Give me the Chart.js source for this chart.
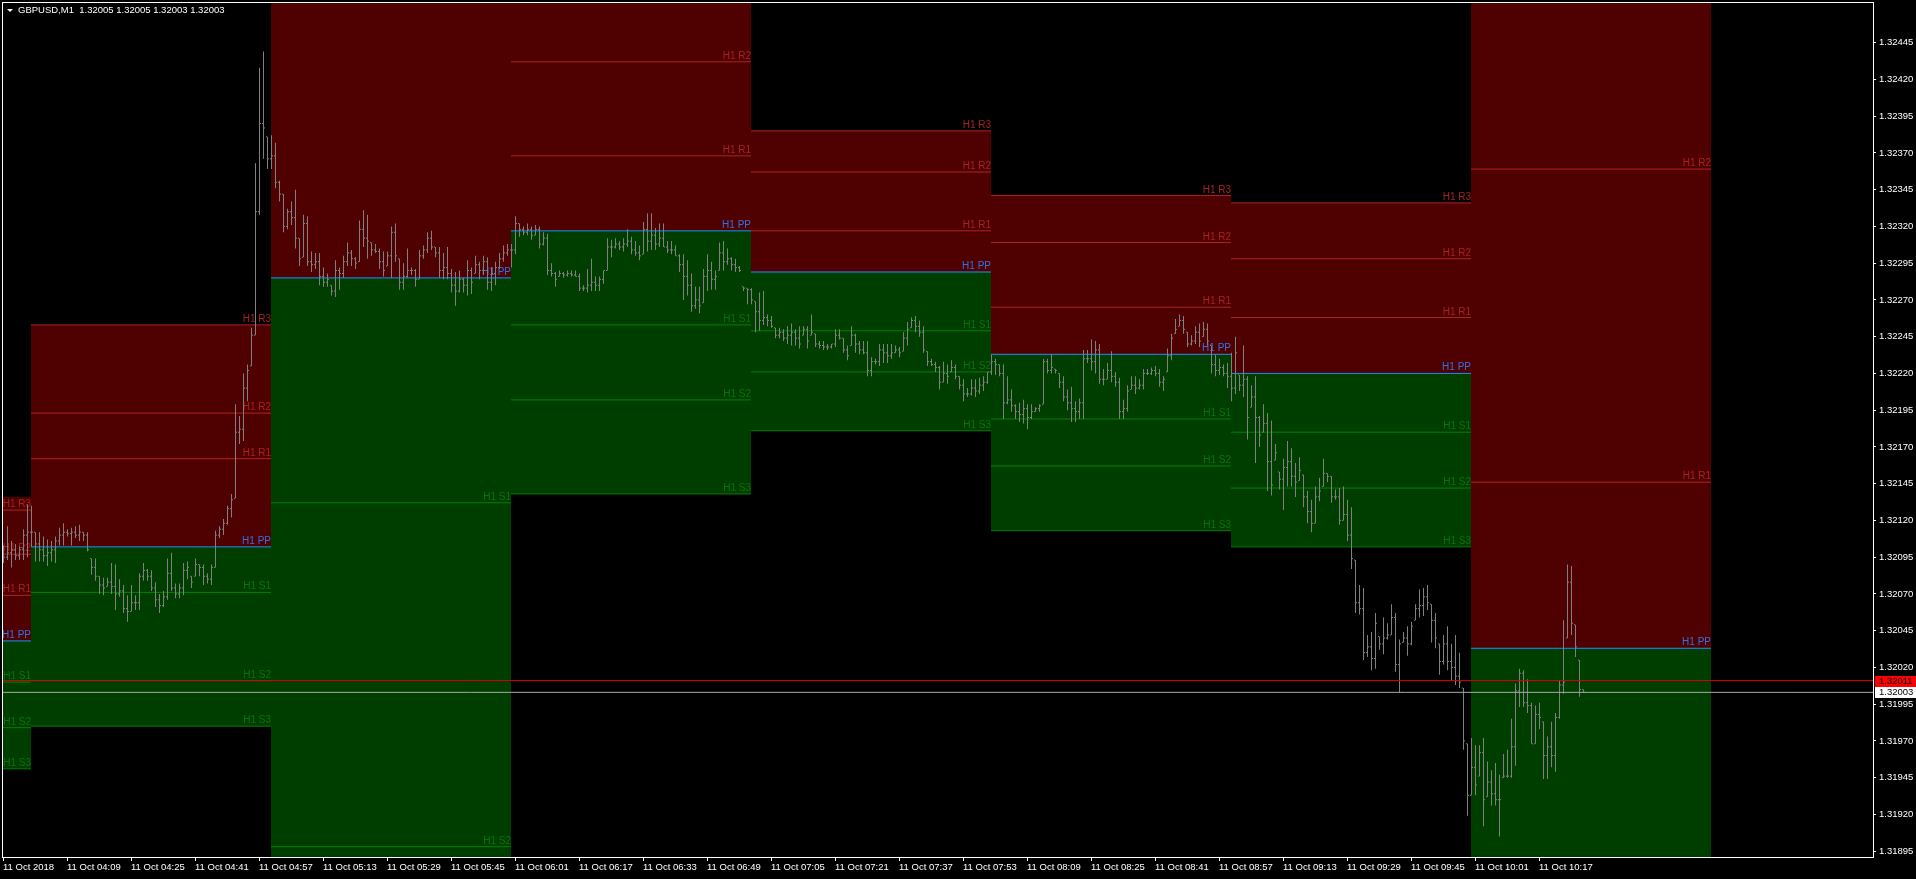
<!DOCTYPE html>
<html>
<head>
<meta charset="utf-8">
<title>GBPUSD,M1</title>
<script src="https://cdn.jsdelivr.net/npm/chart.js@4.4.1/dist/chart.umd.min.js"></script>
<style>
  html, body { margin: 0; padding: 0; background: #000; overflow: hidden; }
  canvas { display: block; }
</style>
</head>
<body>
<canvas id="chart" width="1916" height="879"></canvas>
<script>
// header text shown in the top-left corner
const symbolTitle = 'GBPUSD,M1  1.32005 1.32005 1.32003 1.32003';

// current ask / bid
const askPrice = 1.32011;
const bidPrice = 1.32003;

// first bar is 11 Oct 03:53 ; minutes are counted from 04:00
const firstBarMinute = -7;

// M1 bars 03:53 -> 10:28
const barHigh = [
  1.32103, 1.32116, 1.32106, 1.32104, 1.32102, 1.32114, 1.32131,
  // 04:00
  1.32130, 1.32112, 1.32112, 1.32109, 1.32107, 1.32106, 1.32109, 1.32115, 1.32118, 1.32114,
  1.32115, 1.32116, 1.32117, 1.32112, 1.32112, 1.32094, 1.32094, 1.32082, 1.32081, 1.32081,
  1.32091, 1.32090, 1.32080, 1.32076, 1.32069, 1.32076, 1.32069, 1.32084, 1.32091, 1.32087,
  1.32086, 1.32078, 1.32070, 1.32072, 1.32094, 1.32098, 1.32077, 1.32077, 1.32091, 1.32092,
  1.32082, 1.32094, 1.32090, 1.32090, 1.32084, 1.32090, 1.32113, 1.32116, 1.32121, 1.32130,
  1.32138, 1.32199, 1.32191, 1.32220, 1.32226, 1.32251, 1.32363, 1.32428, 1.32439, 1.32381,
  // 05:00
  1.32382, 1.32377, 1.32351, 1.32342, 1.32332, 1.32337, 1.32345, 1.32312, 1.32328, 1.32327,
  1.32303, 1.32302, 1.32302, 1.32292, 1.32288, 1.32280, 1.32297, 1.32292, 1.32300, 1.32309,
  1.32304, 1.32299, 1.32324, 1.32331, 1.32328, 1.32309, 1.32308, 1.32305, 1.32303, 1.32303,
  1.32320, 1.32322, 1.32298, 1.32295, 1.32305, 1.32292, 1.32291, 1.32304, 1.32307, 1.32316,
  1.32317, 1.32306, 1.32306, 1.32302, 1.32306, 1.32291, 1.32289, 1.32290, 1.32285, 1.32297,
  1.32292, 1.32300, 1.32296, 1.32300, 1.32299, 1.32292, 1.32296, 1.32302, 1.32307, 1.32308,
  // 06:00
  1.32308, 1.32327, 1.32322, 1.32320, 1.32322, 1.32320, 1.32321, 1.32320, 1.32316, 1.32315,
  1.32295, 1.32289, 1.32290, 1.32289, 1.32290, 1.32290, 1.32290, 1.32288, 1.32280, 1.32291,
  1.32298, 1.32286, 1.32286, 1.32290, 1.32312, 1.32311, 1.32312, 1.32310, 1.32312, 1.32318,
  1.32313, 1.32310, 1.32307, 1.32323, 1.32329, 1.32329, 1.32319, 1.32322, 1.32322, 1.32310,
  1.32310, 1.32307, 1.32301, 1.32301, 1.32297, 1.32288, 1.32279, 1.32279, 1.32291, 1.32301,
  1.32296, 1.32290, 1.32309, 1.32310, 1.32305, 1.32299, 1.32298, 1.32293, 1.32279, 1.32278,
  // 07:00
  1.32278, 1.32269, 1.32275, 1.32276, 1.32260, 1.32259, 1.32251, 1.32251, 1.32250, 1.32252,
  1.32254, 1.32250, 1.32252, 1.32252, 1.32252, 1.32260, 1.32247, 1.32242, 1.32242, 1.32240,
  1.32240, 1.32250, 1.32250, 1.32244, 1.32239, 1.32252, 1.32247, 1.32242, 1.32242, 1.32242,
  1.32231, 1.32230, 1.32240, 1.32240, 1.32240, 1.32240, 1.32239, 1.32238, 1.32248, 1.32255,
  1.32258, 1.32259, 1.32256, 1.32252, 1.32235, 1.32230, 1.32228, 1.32225, 1.32228, 1.32226,
  1.32229, 1.32226, 1.32218, 1.32216, 1.32210, 1.32216, 1.32216, 1.32217, 1.32218, 1.32221,
  // 08:00
  1.32233, 1.32230, 1.32226, 1.32226, 1.32218, 1.32209, 1.32199, 1.32200, 1.32202, 1.32199,
  1.32199, 1.32197, 1.32199, 1.32230, 1.32230, 1.32233, 1.32223, 1.32220, 1.32218, 1.32209,
  1.32211, 1.32201, 1.32203, 1.32236, 1.32236, 1.32243, 1.32242, 1.32240, 1.32223, 1.32227,
  1.32235, 1.32221, 1.32217, 1.32202, 1.32212, 1.32218, 1.32218, 1.32216, 1.32223, 1.32223,
  1.32224, 1.32225, 1.32223, 1.32218, 1.32237, 1.32247, 1.32257, 1.32260, 1.32259, 1.32248,
  1.32246, 1.32252, 1.32254, 1.32255, 1.32254, 1.32239, 1.32233, 1.32230, 1.32226, 1.32227,
  // 09:00
  1.32234, 1.32245, 1.32219, 1.32239, 1.32218, 1.32212, 1.32218, 1.32191, 1.32199, 1.32193,
  1.32188, 1.32172, 1.32153, 1.32162, 1.32174, 1.32169, 1.32159, 1.32163, 1.32151, 1.32140,
  1.32134, 1.32143, 1.32149, 1.32162, 1.32152, 1.32150, 1.32141, 1.32142, 1.32143, 1.32134,
  1.32129, 1.32093, 1.32076, 1.32074, 1.32042, 1.32044, 1.32057, 1.32041, 1.32054, 1.32050,
  1.32063, 1.32057, 1.32039, 1.32044, 1.32048, 1.32051, 1.32063, 1.32073, 1.32074, 1.32076,
  1.32063, 1.32057, 1.32036, 1.32042, 1.32048, 1.32036, 1.32042, 1.32030, 1.32006, 1.31968,
  // 10:00
  1.31972, 1.31967, 1.31967, 1.31972, 1.31956, 1.31950, 1.31955, 1.31947, 1.31961, 1.31964,
  1.31985, 1.32009, 1.32019, 1.32018, 1.32012, 1.31996, 1.31994, 1.31996, 1.31983, 1.31973,
  1.31983, 1.31989, 1.32011, 1.32052, 1.32090, 1.32089, 1.32049, 1.32025, 1.32005
];

const barLow = [
  1.32091, 1.32093, 1.32088, 1.32093, 1.32093, 1.32093, 1.32095,
  // 04:00
  1.32102, 1.32092, 1.32092, 1.32092, 1.32089, 1.32092, 1.32091, 1.32103, 1.32103, 1.32109,
  1.32103, 1.32108, 1.32106, 1.32106, 1.32099, 1.32083, 1.32079, 1.32070, 1.32069, 1.32075,
  1.32070, 1.32059, 1.32068, 1.32057, 1.32051, 1.32058, 1.32059, 1.32059, 1.32079, 1.32079,
  1.32072, 1.32061, 1.32057, 1.32061, 1.32066, 1.32072, 1.32067, 1.32067, 1.32069, 1.32080,
  1.32074, 1.32082, 1.32082, 1.32076, 1.32077, 1.32076, 1.32088, 1.32108, 1.32110, 1.32117,
  1.32122, 1.32135, 1.32172, 1.32174, 1.32201, 1.32225, 1.32246, 1.32328, 1.32366, 1.32359,
  // 05:00
  1.32359, 1.32346, 1.32337, 1.32316, 1.32318, 1.32321, 1.32305, 1.32293, 1.32299, 1.32293,
  1.32289, 1.32291, 1.32280, 1.32279, 1.32279, 1.32273, 1.32272, 1.32277, 1.32285, 1.32293,
  1.32293, 1.32291, 1.32296, 1.32306, 1.32298, 1.32300, 1.32302, 1.32291, 1.32286, 1.32293,
  1.32285, 1.32296, 1.32277, 1.32277, 1.32285, 1.32287, 1.32279, 1.32284, 1.32298, 1.32302,
  1.32304, 1.32299, 1.32285, 1.32284, 1.32284, 1.32275, 1.32266, 1.32275, 1.32275, 1.32273,
  1.32274, 1.32288, 1.32284, 1.32287, 1.32277, 1.32276, 1.32280, 1.32291, 1.32296, 1.32300,
  // 06:00
  1.32292, 1.32301, 1.32313, 1.32314, 1.32314, 1.32311, 1.32314, 1.32305, 1.32307, 1.32287,
  1.32286, 1.32279, 1.32286, 1.32285, 1.32286, 1.32286, 1.32286, 1.32276, 1.32276, 1.32275,
  1.32276, 1.32276, 1.32276, 1.32281, 1.32290, 1.32299, 1.32305, 1.32304, 1.32303, 1.32306,
  1.32301, 1.32300, 1.32297, 1.32301, 1.32303, 1.32304, 1.32304, 1.32306, 1.32306, 1.32302,
  1.32301, 1.32300, 1.32289, 1.32270, 1.32273, 1.32262, 1.32264, 1.32261, 1.32268, 1.32276,
  1.32277, 1.32277, 1.32290, 1.32290, 1.32294, 1.32290, 1.32289, 1.32289, 1.32276, 1.32267,
  // 07:00
  1.32267, 1.32248, 1.32249, 1.32253, 1.32252, 1.32251, 1.32244, 1.32244, 1.32242, 1.32240,
  1.32239, 1.32239, 1.32237, 1.32246, 1.32237, 1.32246, 1.32238, 1.32237, 1.32236, 1.32236,
  1.32237, 1.32238, 1.32243, 1.32234, 1.32229, 1.32239, 1.32234, 1.32233, 1.32233, 1.32218,
  1.32218, 1.32226, 1.32225, 1.32227, 1.32227, 1.32230, 1.32234, 1.32231, 1.32235, 1.32239,
  1.32251, 1.32248, 1.32245, 1.32234, 1.32225, 1.32225, 1.32221, 1.32209, 1.32214, 1.32213,
  1.32221, 1.32216, 1.32209, 1.32201, 1.32204, 1.32205, 1.32204, 1.32206, 1.32208, 1.32213,
  // 08:00
  1.32219, 1.32219, 1.32218, 1.32189, 1.32199, 1.32194, 1.32189, 1.32187, 1.32186, 1.32182,
  1.32189, 1.32194, 1.32194, 1.32199, 1.32220, 1.32220, 1.32220, 1.32210, 1.32201, 1.32195,
  1.32187, 1.32187, 1.32189, 1.32189, 1.32227, 1.32222, 1.32220, 1.32213, 1.32212, 1.32216,
  1.32214, 1.32211, 1.32189, 1.32189, 1.32194, 1.32209, 1.32206, 1.32209, 1.32209, 1.32219,
  1.32219, 1.32218, 1.32211, 1.32208, 1.32221, 1.32229, 1.32247, 1.32252, 1.32247, 1.32238,
  1.32239, 1.32240, 1.32238, 1.32245, 1.32239, 1.32220, 1.32218, 1.32219, 1.32218, 1.32210,
  // 09:00
  1.32201, 1.32206, 1.32208, 1.32204, 1.32175, 1.32197, 1.32159, 1.32170, 1.32180, 1.32140,
  1.32137, 1.32161, 1.32141, 1.32127, 1.32143, 1.32143, 1.32136, 1.32147, 1.32129, 1.32118,
  1.32112, 1.32118, 1.32133, 1.32143, 1.32146, 1.32132, 1.32134, 1.32117, 1.32120, 1.32106,
  1.32087, 1.32057, 1.32056, 1.32025, 1.32027, 1.32018, 1.32019, 1.32032, 1.32029, 1.32039,
  1.32042, 1.32017, 1.32003, 1.32037, 1.32028, 1.32035, 1.32052, 1.32054, 1.32055, 1.32059,
  1.32037, 1.32033, 1.32015, 1.32022, 1.32018, 1.32011, 1.32008, 1.32006, 1.31964, 1.31919,
  // 10:00
  1.31933, 1.31933, 1.31946, 1.31912, 1.31932, 1.31926, 1.31926, 1.31905, 1.31945, 1.31945,
  1.31945, 1.31953, 1.31993, 1.31993, 1.31989, 1.31968, 1.31968, 1.31978, 1.31944, 1.31944,
  1.31952, 1.31949, 1.31985, 1.32002, 1.32040, 1.32042, 1.32027, 1.32000, 1.32003
];

const barClose = [
  1.32095, 1.32098, 1.32100, 1.32096, 1.32100, 1.32110, 1.32112,
  // 04:00
  1.32112, 1.32104, 1.32100, 1.32096, 1.32098, 1.32100, 1.32106, 1.32110, 1.32112, 1.32111,
  1.32112, 1.32110, 1.32112, 1.32110, 1.32100, 1.32088, 1.32082, 1.32076, 1.32074, 1.32078,
  1.32075, 1.32070, 1.32072, 1.32060, 1.32058, 1.32064, 1.32064, 1.32082, 1.32086, 1.32082,
  1.32074, 1.32066, 1.32062, 1.32068, 1.32084, 1.32074, 1.32070, 1.32074, 1.32086, 1.32088,
  1.32078, 1.32090, 1.32088, 1.32082, 1.32080, 1.32088, 1.32110, 1.32114, 1.32118, 1.32128,
  1.32134, 1.32180, 1.32182, 1.32210, 1.32222, 1.32246, 1.32330, 1.32390, 1.32387, 1.32366,
  // 05:00
  1.32368, 1.32350, 1.32342, 1.32320, 1.32330, 1.32326, 1.32312, 1.32298, 1.32322, 1.32296,
  1.32294, 1.32296, 1.32286, 1.32282, 1.32284, 1.32276, 1.32290, 1.32288, 1.32296, 1.32302,
  1.32298, 1.32295, 1.32318, 1.32312, 1.32310, 1.32304, 1.32303, 1.32296, 1.32290, 1.32300,
  1.32316, 1.32300, 1.32282, 1.32286, 1.32290, 1.32290, 1.32284, 1.32300, 1.32304, 1.32312,
  1.32306, 1.32302, 1.32290, 1.32292, 1.32288, 1.32280, 1.32276, 1.32284, 1.32280, 1.32290,
  1.32282, 1.32294, 1.32290, 1.32296, 1.32282, 1.32288, 1.32292, 1.32298, 1.32302, 1.32304,
  // 06:00
  1.32304, 1.32322, 1.32318, 1.32316, 1.32318, 1.32314, 1.32318, 1.32308, 1.32312, 1.32290,
  1.32288, 1.32284, 1.32288, 1.32287, 1.32288, 1.32287, 1.32286, 1.32278, 1.32278, 1.32280,
  1.32282, 1.32280, 1.32284, 1.32290, 1.32306, 1.32306, 1.32308, 1.32306, 1.32308, 1.32310,
  1.32304, 1.32302, 1.32300, 1.32318, 1.32310, 1.32314, 1.32308, 1.32312, 1.32306, 1.32304,
  1.32304, 1.32300, 1.32294, 1.32286, 1.32280, 1.32266, 1.32270, 1.32266, 1.32286, 1.32290,
  1.32284, 1.32286, 1.32302, 1.32296, 1.32298, 1.32294, 1.32292, 1.32290, 1.32278, 1.32277,
  // 07:00
  1.32270, 1.32262, 1.32256, 1.32258, 1.32256, 1.32252, 1.32246, 1.32248, 1.32244, 1.32246,
  1.32248, 1.32244, 1.32240, 1.32250, 1.32242, 1.32248, 1.32240, 1.32239, 1.32238, 1.32238,
  1.32240, 1.32246, 1.32244, 1.32236, 1.32232, 1.32246, 1.32240, 1.32236, 1.32234, 1.32222,
  1.32228, 1.32228, 1.32236, 1.32234, 1.32232, 1.32234, 1.32236, 1.32234, 1.32244, 1.32250,
  1.32256, 1.32252, 1.32248, 1.32236, 1.32228, 1.32226, 1.32224, 1.32214, 1.32220, 1.32218,
  1.32224, 1.32218, 1.32212, 1.32206, 1.32206, 1.32210, 1.32208, 1.32212, 1.32214, 1.32221,
  // 08:00
  1.32228, 1.32226, 1.32220, 1.32200, 1.32202, 1.32198, 1.32194, 1.32192, 1.32196, 1.32190,
  1.32194, 1.32196, 1.32198, 1.32228, 1.32222, 1.32224, 1.32222, 1.32214, 1.32204, 1.32200,
  1.32196, 1.32194, 1.32200, 1.32230, 1.32230, 1.32228, 1.32236, 1.32216, 1.32216, 1.32222,
  1.32218, 1.32214, 1.32194, 1.32196, 1.32208, 1.32212, 1.32210, 1.32212, 1.32220, 1.32220,
  1.32222, 1.32220, 1.32214, 1.32216, 1.32232, 1.32244, 1.32250, 1.32256, 1.32250, 1.32240,
  1.32242, 1.32248, 1.32242, 1.32250, 1.32242, 1.32226, 1.32222, 1.32224, 1.32220, 1.32218,
  // 09:00
  1.32210, 1.32234, 1.32212, 1.32216, 1.32190, 1.32204, 1.32190, 1.32178, 1.32186, 1.32160,
  1.32144, 1.32166, 1.32148, 1.32156, 1.32160, 1.32150, 1.32146, 1.32154, 1.32136, 1.32126,
  1.32118, 1.32136, 1.32140, 1.32152, 1.32150, 1.32136, 1.32136, 1.32120, 1.32124, 1.32110,
  1.32094, 1.32064, 1.32060, 1.32030, 1.32034, 1.32026, 1.32050, 1.32036, 1.32040, 1.32042,
  1.32054, 1.32022, 1.32036, 1.32040, 1.32036, 1.32048, 1.32060, 1.32062, 1.32068, 1.32064,
  1.32052, 1.32040, 1.32024, 1.32036, 1.32024, 1.32020, 1.32014, 1.32010, 1.31970, 1.31933,
  // 10:00
  1.31952, 1.31940, 1.31962, 1.31930, 1.31942, 1.31934, 1.31930, 1.31930, 1.31946, 1.31946,
  1.31966, 1.32004, 1.32016, 1.31996, 1.31994, 1.31968, 1.31988, 1.31986, 1.31960, 1.31966,
  1.31960, 1.31986, 1.32008, 1.32010, 1.32078, 1.32050, 1.32034, 1.32005, 1.32003
];

// hourly pivot zones (03:00 ... 10:00), start minute relative to 04:00
const zoneStart = [-60, 0, 60, 120, 180, 240, 300, 360];
const zoneMinutes = 60;
const pivotR3 = [1.32127, 1.32253, 1.32906, 1.32483, 1.32385, 1.32341, 1.32336, 1.32478];
const pivotR2 = [1.32097, 1.32193, 1.32672, 1.32432, 1.32357, 1.32309, 1.32298, 1.32359];
const pivotR1 = [1.32069, 1.32162, 1.32519, 1.32368, 1.32317, 1.32265, 1.32258, 1.32146];
const pivotPP = [1.32038, 1.32102, 1.32285, 1.32317, 1.32289, 1.32233, 1.32220, 1.32033];
const pivotS1 = [1.32010, 1.32071, 1.32132, 1.32253, 1.32249, 1.32189, 1.32180, 1.31820];
const pivotS2 = [1.31979, 1.32011, 1.31898, 1.32202, 1.32221, 1.32157, 1.32142, 1.31707];
const pivotS3 = [1.31951, 1.31980, 1.31745, 1.32138, 1.32181, 1.32113, 1.32102, 1.31494];
const zoneRedTop = [1.32136, 1.32253, 1.32906, 1.32483, 1.32385, 1.32341, 1.32336, 1.32478];

// axis ticks
const timeTickMinutes = [-7, 9, 25, 41, 57, 73, 89, 105, 121, 137, 153, 169, 185,
  201, 217, 233, 249, 265, 281, 297, 313, 329, 345, 361, 377];
const timeTickLabels = ['11 Oct 2018', '11 Oct 04:09', '11 Oct 04:25', '11 Oct 04:41',
  '11 Oct 04:57', '11 Oct 05:13', '11 Oct 05:29', '11 Oct 05:45', '11 Oct 06:01',
  '11 Oct 06:17', '11 Oct 06:33', '11 Oct 06:49', '11 Oct 07:05', '11 Oct 07:21',
  '11 Oct 07:37', '11 Oct 07:53', '11 Oct 08:09', '11 Oct 08:25', '11 Oct 08:41',
  '11 Oct 08:57', '11 Oct 09:13', '11 Oct 09:29', '11 Oct 09:45', '11 Oct 10:01',
  '11 Oct 10:17'];
const priceTicks = [1.31895, 1.31920, 1.31945, 1.31970, 1.31995, 1.32020, 1.32045,
  1.32070, 1.32095, 1.32120, 1.32145, 1.32170, 1.32195, 1.32220, 1.32245, 1.32270,
  1.32295, 1.32320, 1.32345, 1.32370, 1.32395, 1.32420, 1.32445];

// visible window
const xMin = -7, xMax = 460.5;
const yMin = 1.31891, yMax = 1.32472;
// bars sit an eighth of a minute right so the 1px wick lands on a whole pixel
const barShift = 0.125;

const barColor = '#808080';
const zoneRedFill = '#4f0000';
const zoneGreenFill = '#003e00';
const fontFamily = '"Liberation Sans", Arial, sans-serif';

const levelSets = [
  { name: 'H1 R3', values: pivotR3, line: '#b22222', text: '#a82222' },
  { name: 'H1 R2', values: pivotR2, line: '#b22222', text: '#a82222' },
  { name: 'H1 R1', values: pivotR1, line: '#b22222', text: '#a82222' },
  { name: 'H1 PP', values: pivotPP, line: '#1e90ff', text: '#3470e4' },
  { name: 'H1 S1', values: pivotS1, line: '#008000', text: '#0a720a' },
  { name: 'H1 S2', values: pivotS2, line: '#008000', text: '#0a720a' },
  { name: 'H1 S3', values: pivotS3, line: '#008000', text: '#0a720a' }
];

// open = previous close, kept inside the bar range
const barOpen = barClose.map((c, i) => {
  const prev = i === 0 ? c : barClose[i - 1];
  return Math.min(Math.max(prev, barLow[i]), barHigh[i]);
});

function flatLine(x0, x1, v, color, order) {
  return {
    type: 'line',
    data: [{ x: x0, y: v }, { x: x1, y: v }],
    borderColor: color,
    borderWidth: 1,
    pointRadius: 0,
    fill: false,
    order: order
  };
}

const datasets = [];

// ask / bid lines on top of everything
datasets.push(flatLine(xMin, xMax, askPrice, '#e00000', 0));
datasets.push(flatLine(xMin, xMax, bidPrice, '#a8a8a8', 0));

// high-low wicks
datasets.push({
  type: 'bar',
  data: barHigh.map((h, i) => ({ x: firstBarMinute + i + barShift, y: [barLow[i], h] })),
  backgroundColor: barColor,
  barThickness: 1,
  borderWidth: 0,
  inflateAmount: 0,
  order: 1
});

// open tick on the left, close tick on the right
datasets.push({
  type: 'scatter',
  data: barOpen.map((o, i) => ({ x: firstBarMinute + i + barShift - 0.25, y: o })),
  pointStyle: 'line', pointRadius: 0.5, pointHoverRadius: 0,
  borderColor: barColor, pointBorderColor: barColor, pointBorderWidth: 1,
  order: 1
});
datasets.push({
  type: 'scatter',
  data: barClose.map((c, i) => ({ x: firstBarMinute + i + barShift + 0.25, y: c })),
  pointStyle: 'line', pointRadius: 0.5, pointHoverRadius: 0,
  borderColor: barColor, pointBorderColor: barColor, pointBorderWidth: 1,
  order: 1
});

// pivot level lines, remember PP indexes for the zone fills
const ppIndex = [];
levelSets.forEach(set => {
  set.values.forEach((v, k) => {
    if (set.name === 'H1 PP') ppIndex[k] = datasets.length;
    datasets.push(flatLine(zoneStart[k], zoneStart[k] + zoneMinutes, v, set.line, 2));
  });
});

// red zone PP -> top, green zone PP -> S3
zoneStart.forEach((s, k) => {
  const top = flatLine(s, s + zoneMinutes, zoneRedTop[k], 'rgba(0,0,0,0)', 3);
  top.fill = { target: ppIndex[k], above: zoneRedFill, below: zoneRedFill };
  datasets.push(top);
  const bottom = flatLine(s, s + zoneMinutes, pivotS3[k], 'rgba(0,0,0,0)', 3);
  bottom.fill = { target: ppIndex[k], above: zoneGreenFill, below: zoneGreenFill };
  datasets.push(bottom);
});

// labels, frame, header and price tags
const mtDecor = {
  id: 'mtDecor',
  beforeDatasetsDraw(chart) {
    const { ctx, chartArea: a, scales: { x, y } } = chart;
    ctx.save();
    ctx.beginPath();
    ctx.rect(a.left, a.top, a.right - a.left, a.bottom - a.top);
    ctx.clip();
    ctx.font = '10px ' + fontFamily;
    ctx.textAlign = 'right';
    ctx.textBaseline = 'alphabetic';
    levelSets.forEach(set => {
      ctx.fillStyle = set.text;
      set.values.forEach((v, k) => {
        const py = y.getPixelForValue(v);
        if (py < a.top + 8 || py > a.bottom) return;
        ctx.fillText(set.name, x.getPixelForValue(zoneStart[k] + zoneMinutes), py - 3);
      });
    });
    ctx.restore();
  },
  afterDraw(chart) {
    const { ctx, chartArea: a, scales: { y }, width } = chart;
    ctx.save();
    ctx.strokeStyle = '#ffffff';
    ctx.lineWidth = 1;
    ctx.strokeRect(a.left - 0.5, a.top - 0.5, a.right - a.left + 1, a.bottom - a.top + 1);

    // symbol header
    ctx.fillStyle = '#ffffff';
    ctx.beginPath();
    ctx.moveTo(a.left + 4, a.top + 6);
    ctx.lineTo(a.left + 10, a.top + 6);
    ctx.lineTo(a.left + 7, a.top + 9);
    ctx.closePath();
    ctx.fill();
    ctx.font = '9.5px ' + fontFamily;
    ctx.textAlign = 'left';
    ctx.textBaseline = 'middle';
    ctx.fillText(symbolTitle, a.left + 15, a.top + 7.5);

    // ask / bid tags on the price scale
    [[askPrice, '#ff0000', '#000000'], [bidPrice, '#ffffff', '#000000']].forEach(([p, bg, fg]) => {
      const py = Math.round(y.getPixelForValue(p));
      ctx.fillStyle = bg;
      ctx.fillRect(a.right + 2, py - 5, width - a.right - 2, 11);
      ctx.fillStyle = fg;
      ctx.fillText(p.toFixed(5), a.right + 6, py + 0.5);
    });
    ctx.restore();
  }
};

Chart.defaults.font.family = fontFamily;

new Chart(document.getElementById('chart'), {
  type: 'scatter',
  data: { datasets: datasets },
  options: {
    responsive: false,
    animation: false,
    devicePixelRatio: 1,
    events: [],
    layout: { padding: { left: 3, top: 3, right: 0, bottom: 0 } },
    plugins: {
      legend: { display: false },
      tooltip: { enabled: false },
      filler: { propagate: false, drawTime: 'beforeDatasetsDraw' }
    },
    scales: {
      x: {
        type: 'linear',
        min: xMin,
        max: xMax,
        offset: false,
        afterBuildTicks: s => { s.ticks = timeTickMinutes.map(v => ({ value: v })); },
        afterFit: s => { s.height = 22; s.paddingLeft = 0; s.paddingRight = 0; },
        grid: { drawOnChartArea: false, drawTicks: true, tickLength: 4, color: '#ffffff', offset: false },
        border: { display: true, color: '#ffffff' },
        ticks: {
          autoSkip: false, maxRotation: 0, minRotation: 0, align: 'start', padding: 1,
          color: '#ffffff', font: { size: 9.5 },
          callback: (v, i) => timeTickLabels[i]
        }
      },
      y: {
        type: 'linear',
        position: 'right',
        min: yMin,
        max: yMax,
        afterBuildTicks: s => { s.ticks = priceTicks.map(v => ({ value: v })); },
        afterFit: s => { s.width = 43; s.paddingTop = 0; s.paddingBottom = 0; },
        grid: { drawOnChartArea: false, drawTicks: true, tickLength: 3, color: '#ffffff' },
        border: { display: true, color: '#ffffff' },
        ticks: {
          autoSkip: false, padding: 3, color: '#ffffff', font: { size: 9.5 },
          callback: v => v.toFixed(5)
        }
      }
    }
  },
  plugins: [mtDecor]
});
</script>
</body>
</html>
